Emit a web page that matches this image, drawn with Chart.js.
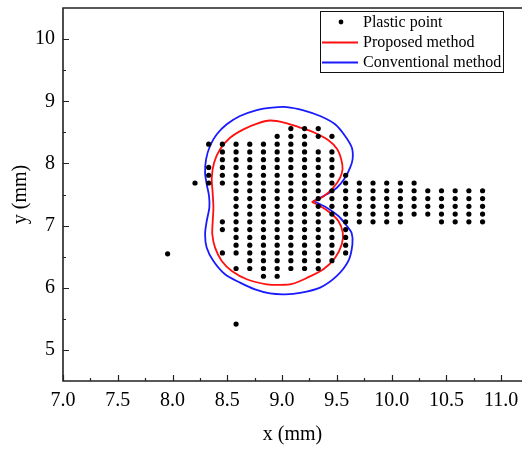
<!DOCTYPE html>
<html><head><meta charset="utf-8">
<script src="https://cdn.jsdelivr.net/npm/chart.js@4/dist/chart.umd.min.js"></script>
<style>html,body{margin:0;padding:0;background:#fff;} #wrap{width:522px;height:450px;}</style>
</head><body><div id="wrap"><canvas id="c" width="522" height="450"></canvas></div>
<script>
// ---- tick labels ----
const xTickValues = [7.0, 7.5, 8.0, 8.5, 9.0, 9.5, 10.0, 10.5, 11.0];
const xTickLabels = ['7.0', '7.5', '8.0', '8.5', '9.0', '9.5', '10.0', '10.5', '11.0'];
const yTickValues = [5, 6, 7, 8, 9, 10];
const yTickLabels = ['5', '6', '7', '8', '9', '10'];

// ---- plastic points: one row y and its x values ----
const plasticRowY = [8.56, 8.435, 8.31, 8.185, 8.06, 7.935, 7.81, 7.685, 7.56, 7.435,
                     7.31, 7.185, 7.06, 6.935, 6.81, 6.685, 6.56, 6.435, 6.31, 6.185];
const plasticRowX = [
  [9.08, 9.205, 9.33],
  [8.955, 9.08, 9.205, 9.33, 9.455],
  [8.33, 8.455, 8.58, 8.705, 8.83, 8.955, 9.08, 9.205],
  [8.455, 8.58, 8.705, 8.83, 8.955, 9.08, 9.205, 9.33, 9.455],
  [8.455, 8.58, 8.705, 8.83, 8.955, 9.08, 9.205, 9.33, 9.455],
  [8.33, 8.455, 8.58, 8.705, 8.83, 8.955, 9.08, 9.205, 9.33, 9.455],
  [8.33, 8.455, 8.58, 8.705, 8.83, 8.955, 9.08, 9.205, 9.33, 9.455, 9.58],
  [8.205, 8.33, 8.455, 8.58, 8.705, 8.83, 8.955, 9.08, 9.205, 9.33, 9.455, 9.58, 9.705, 9.83, 9.955, 10.08, 10.205],
  [8.58, 8.705, 8.83, 8.955, 9.08, 9.205, 9.33, 9.455, 9.58, 9.705, 9.83, 9.955, 10.08, 10.205, 10.33, 10.455, 10.58, 10.705, 10.83],
  [8.58, 8.705, 8.83, 8.955, 9.08, 9.205, 9.33, 9.455, 9.58, 9.705, 9.83, 9.955, 10.08, 10.205, 10.33, 10.455, 10.58, 10.705, 10.83],
  [8.58, 8.705, 8.83, 8.955, 9.08, 9.205, 9.33, 9.455, 9.58, 9.705, 9.83, 9.955, 10.08, 10.205, 10.33, 10.455, 10.58, 10.705, 10.83],
  [8.58, 8.705, 8.83, 8.955, 9.08, 9.205, 9.33, 9.455, 9.58, 9.705, 9.83, 9.955, 10.08, 10.205, 10.33, 10.455, 10.58, 10.705, 10.83],
  [8.455, 8.58, 8.705, 8.83, 8.955, 9.08, 9.205, 9.33, 9.455, 9.58, 9.705, 9.83, 9.955, 10.08, 10.455, 10.58, 10.705, 10.83],
  [8.455, 8.58, 8.705, 8.83, 8.955, 9.08, 9.205, 9.33, 9.455, 9.58],
  [8.58, 8.705, 8.83, 8.955, 9.08, 9.205, 9.33, 9.455, 9.58],
  [8.58, 8.705, 8.83, 8.955, 9.08, 9.205, 9.33, 9.455, 9.58],
  [8.455, 8.58, 8.705, 8.83, 8.955, 9.08, 9.205, 9.33, 9.455, 9.58],
  [8.705, 8.83, 8.955, 9.08, 9.205, 9.33, 9.455],
  [8.58, 8.705, 8.83, 8.955, 9.08, 9.205, 9.33],
  [8.83, 8.955]
];
const outlierX = [7.955, 8.58];
const outlierY = [6.545, 5.415];

// ---- proposed method boundary (red), starting and ending at the cusp ----
const proposedX = [9.271, 9.377, 9.468, 9.530, 9.552, 9.539, 9.502, 9.420, 9.292, 9.164, 9.018, 8.890, 8.772, 8.647, 8.525, 8.434, 8.379, 8.358, 8.365, 8.373, 8.367, 8.363, 8.388, 8.449, 8.541, 8.678, 8.860, 8.982, 9.091, 9.226, 9.377, 9.484, 9.545, 9.554, 9.514, 9.438, 9.347, 9.271];
const proposedY = [7.379, 7.468, 7.609, 7.770, 7.910, 8.071, 8.232, 8.376, 8.497, 8.577, 8.658, 8.690, 8.641, 8.548, 8.413, 8.227, 8.011, 7.770, 7.556, 7.288, 7.074, 6.860, 6.645, 6.431, 6.270, 6.137, 6.056, 6.045, 6.061, 6.158, 6.297, 6.484, 6.699, 6.886, 7.074, 7.207, 7.315, 7.379];

// ---- conventional method boundary (blue) ----
const conventionalX = [9.286, 9.408, 9.500, 9.575, 9.621, 9.644, 9.637, 9.575, 9.484, 9.347, 9.195, 9.043, 8.909, 8.769, 8.616, 8.495, 8.404, 8.342, 8.306, 8.297, 8.312, 8.333, 8.336, 8.312, 8.297, 8.312, 8.373, 8.479, 8.616, 8.753, 8.890, 9.027, 9.164, 9.347, 9.500, 9.605, 9.642, 9.635, 9.591, 9.514, 9.408, 9.286];
const conventionalY = [7.395, 7.503, 7.609, 7.770, 7.931, 8.071, 8.252, 8.441, 8.629, 8.762, 8.854, 8.907, 8.899, 8.859, 8.762, 8.629, 8.468, 8.280, 8.066, 7.850, 7.664, 7.476, 7.288, 7.074, 6.860, 6.645, 6.431, 6.217, 6.082, 5.973, 5.908, 5.895, 5.916, 6.002, 6.190, 6.431, 6.699, 6.881, 6.994, 7.154, 7.288, 7.395];

const seriesNames = ['Plastic point', 'Proposed method', 'Conventional method'];

// ---- build data ----
const plasticData = [];
plasticRowY.forEach((yv, i) => plasticRowX[i].forEach(xv => plasticData.push({x: xv, y: yv})));
outlierX.forEach((xv, i) => plasticData.push({x: xv, y: outlierY[i]}));
const zip = (xs, ys) => xs.map((v, i) => ({x: v, y: ys[i]}));

const SERIF = "'Liberation Serif', 'Times New Roman', serif";

const framePlugin = {
  id: 'frame',
  afterDatasetsDraw(chart) {
    const {ctx, chartArea: a, scales: {x, y}} = chart;
    ctx.save();
    ctx.strokeStyle = '#222';
    ctx.lineWidth = 1.6;
    ctx.beginPath();
    ctx.moveTo(a.right + 2, a.top); ctx.lineTo(a.left, a.top);
    ctx.lineTo(a.left, a.bottom); ctx.lineTo(a.right + 2, a.bottom);
    ctx.stroke();
    ctx.lineWidth = 1.2;
    ctx.beginPath();
    xTickValues.forEach((v, i) => {
      const px = Math.round(x.getPixelForValue(v)) + 0.5;
      ctx.moveTo(px, a.bottom); ctx.lineTo(px, a.bottom - 6);
      if (i < xTickValues.length - 1) {
        const m = Math.round(x.getPixelForValue((v + xTickValues[i + 1]) / 2)) + 0.5;
        ctx.moveTo(m, a.bottom); ctx.lineTo(m, a.bottom - 3);
      }
    });
    yTickValues.forEach((v, i) => {
      const py = Math.round(y.getPixelForValue(v)) + 0.5;
      ctx.moveTo(a.left, py); ctx.lineTo(a.left + 6, py);
      if (i < yTickValues.length - 1) {
        const m = Math.round(y.getPixelForValue((v + yTickValues[i + 1]) / 2)) + 0.5;
        ctx.moveTo(a.left, m); ctx.lineTo(a.left + 3, m);
      }
    });
    ctx.stroke();
    ctx.restore();
  }
};

const legendPlugin = {
  id: 'boxLegend',
  afterDraw(chart) {
    const {ctx, chartArea: a} = chart;
    const ds = chart.data.datasets;
    const bx = a.left + 257, by = a.top + 3, bw = 183, bh = 61;
    ctx.save();
    ctx.fillStyle = '#fff';
    ctx.fillRect(bx, by, bw, bh);
    ctx.strokeStyle = '#111';
    ctx.lineWidth = 1;
    ctx.strokeRect(bx + 0.5, by + 0.5, bw, bh);
    ctx.font = '16px ' + SERIF;
    ctx.textBaseline = 'middle';
    ctx.textAlign = 'left';
    ds.forEach((d, i) => {
      const ry = by + 11 + i * 20;
      if (i === 0) {
        ctx.fillStyle = d.backgroundColor;
        ctx.beginPath(); ctx.arc(bx + 21, ry, 2.4, 0, Math.PI * 2); ctx.fill();
      } else {
        ctx.strokeStyle = d.borderColor;
        ctx.lineWidth = d.borderWidth;
        ctx.beginPath(); ctx.moveTo(bx + 2, ry + 0.5); ctx.lineTo(bx + 38, ry + 0.5); ctx.stroke();
      }
      ctx.fillStyle = '#000';
      ctx.fillText(d.label, bx + 43, ry + 1);
    });
    ctx.restore();
  }
};

const noPad = s => { s.paddingTop = 0; s.paddingBottom = 0; s.paddingLeft = 0; s.paddingRight = 0; };

new Chart(document.getElementById('c'), {
  type: 'scatter',
  data: {
    datasets: [
      {label: seriesNames[0], data: plasticData, backgroundColor: '#000', borderColor: '#000',
       pointRadius: 2.6, pointBorderWidth: 0, showLine: false},
      {label: seriesNames[1], data: zip(proposedX, proposedY), borderColor: '#ff1010', backgroundColor: '#ff1010',
       borderWidth: 1.8, pointRadius: 0, showLine: true, tension: 0.3},
      {label: seriesNames[2], data: zip(conventionalX, conventionalY), borderColor: '#1a1aff', backgroundColor: '#1a1aff',
       borderWidth: 1.8, pointRadius: 0, showLine: true, tension: 0.3}
    ]
  },
  options: {
    responsive: false,
    devicePixelRatio: 1,
    animation: false,
    layout: {autoPadding: false, padding: {top: 8, right: 0, left: 0, bottom: 0}},
    plugins: {legend: {display: false}, tooltip: {enabled: false}},
    scales: {
      x: {
        type: 'linear', min: 7.0, max: 11.19,
        grid: {display: false, drawTicks: false},
        border: {display: false},
        afterBuildTicks: s => { s.ticks = xTickValues.map(v => ({value: v})); },
        afterFit: s => { s.height = 69; noPad(s); },
        ticks: {
          padding: 8, color: '#000', font: {family: SERIF, size: 20},
          maxRotation: 0, autoSkip: false,
          callback: v => { const i = xTickValues.indexOf(v); return i >= 0 ? xTickLabels[i] : ''; }
        },
        title: {display: true, text: 'x (mm)', color: '#000', font: {family: SERIF, size: 20}, padding: {top: 0, bottom: 3}}
      },
      y: {
        type: 'linear', min: 4.5, max: 10.5,
        grid: {display: false, drawTicks: false},
        border: {display: false},
        afterBuildTicks: s => { s.ticks = yTickValues.map(v => ({value: v})); },
        afterFit: s => { s.width = 63; noPad(s); },
        ticks: {
          padding: 8, color: '#000', font: {family: SERIF, size: 20}, autoSkip: false,
          callback: v => { const i = yTickValues.indexOf(v); return i >= 0 ? yTickLabels[i] : ''; }
        },
        title: {display: true, text: 'y (mm)', color: '#000', font: {family: SERIF, size: 20}, padding: {top: 9, bottom: 0}}
      }
    }
  },
  plugins: [framePlugin, legendPlugin]
});
</script></body></html>
